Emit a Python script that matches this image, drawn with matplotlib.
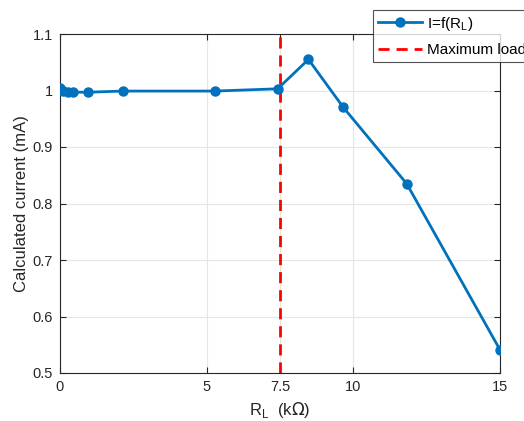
import matplotlib
matplotlib.use("Agg")
import matplotlib.pyplot as plt

r_load = [0.0, 0.1, 0.27, 0.43, 0.97, 2.14, 5.28, 7.42, 8.47, 9.66, 11.82, 15.0]
current = [1.004, 0.999, 0.998, 0.997, 0.997, 0.999, 0.999, 1.003, 1.055, 0.970, 0.835, 0.541]
max_load = 7.5
xticks = [0, 5, 7.5, 10, 15]
xticklabels = ["0", "5", "7.5", "10", "15"]
yticks = [0.5, 0.6, 0.7, 0.8, 0.9, 1.0, 1.1]
yticklabels = ["0.5", "0.6", "0.7", "0.8", "0.9", "1", "1.1"]

plt.rcParams['font.family'] = ['Liberation Sans', 'DejaVu Sans']

fig = plt.figure(figsize=(5.24, 4.21), dpi=100)
ax = fig.add_axes([60/524, 48/421, 440/524, 339/421])

blue = '#0072BD'
ax.plot(r_load, current, '-o', color=blue, lw=2, ms=6.5, label=r'I=f(R$_\mathregular{L}$)', zorder=3)
ax.axvline(max_load, color='#FF0000', ls=(0, (4, 2.5)), lw=2, label='Maximum load', zorder=2)

ax.set_xlim(0, 15)
ax.set_ylim(0.5, 1.1)
ax.set_xticks(xticks)
ax.set_xticklabels(xticklabels)
ax.set_yticks(yticks)
ax.set_yticklabels(yticklabels)
ax.grid(True, color='#E6E6E6', lw=0.8)
ax.set_axisbelow(True)
for s in ax.spines.values():
    s.set_color('#262626')
    s.set_linewidth(0.8)
ax.tick_params(direction='in', length=4, colors='#262626', labelsize=10.5, pad=5,
               top=True, right=True)
ax.set_xlabel(r'R$_\mathregular{L}$  (k$\Omega$)', fontsize=12, color='#262626', labelpad=4)
ax.set_ylabel('Calculated current (mA)', fontsize=12, color='#262626', labelpad=3)

leg = fig.legend(loc='upper left', bbox_to_anchor=(373/524, 1 - 10/421),
                 fontsize=11, frameon=True, fancybox=False, edgecolor='#262626',
                 handlelength=2.9, borderpad=0.3, labelspacing=0.7, handletextpad=0.35,
                 borderaxespad=0)
leg.get_frame().set_linewidth(0.8)

fig.savefig('out.png', dpi=100)
